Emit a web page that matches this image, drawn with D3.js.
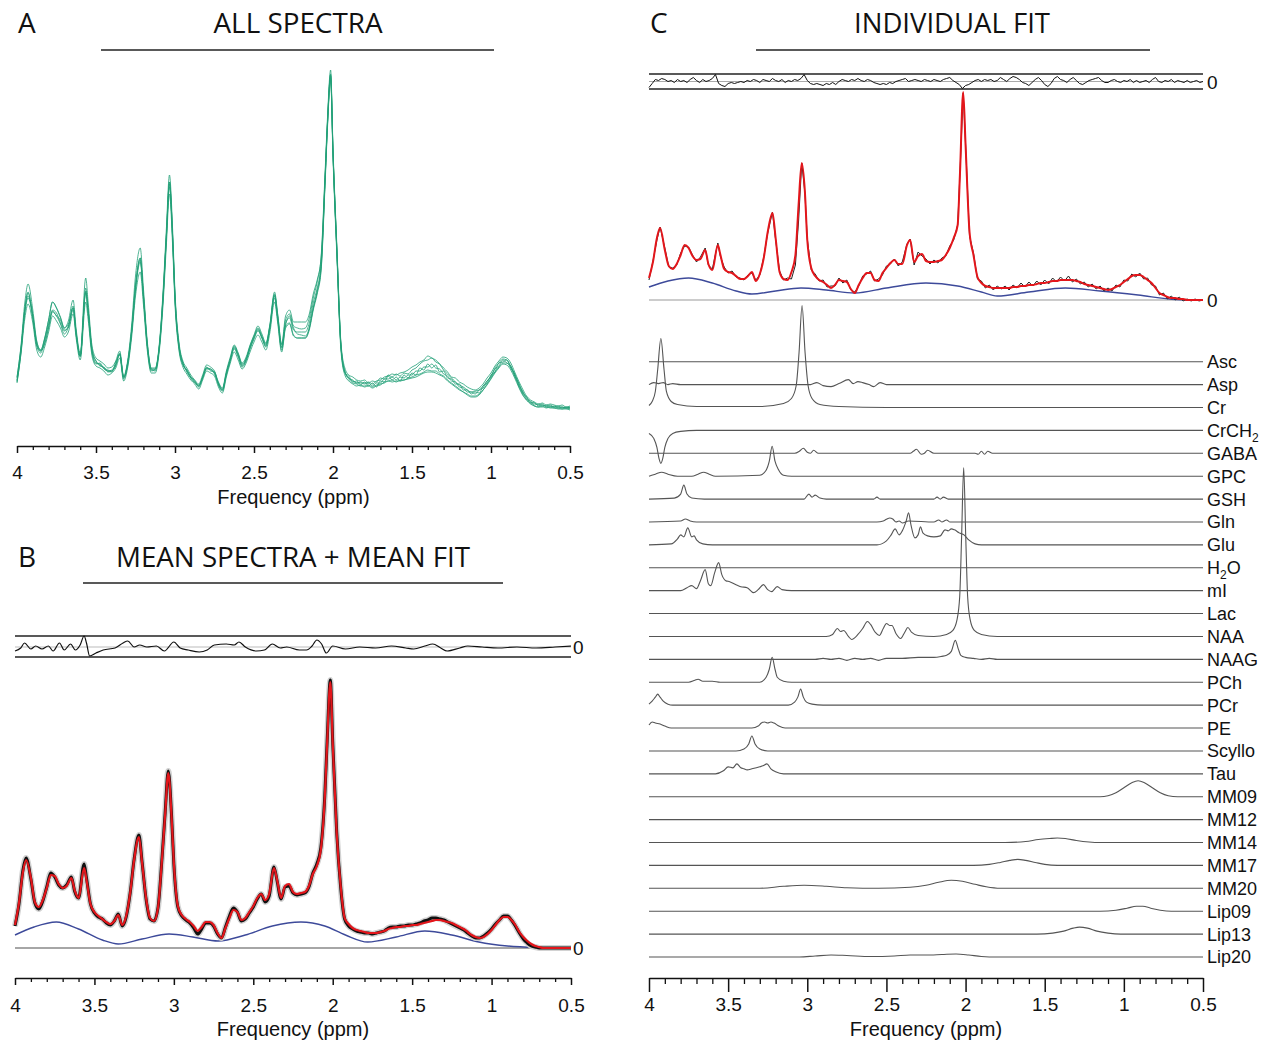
<!DOCTYPE html>
<html>
<head>
<meta charset="utf-8">
<script src="https://cdn.jsdelivr.net/npm/d3@7"></script>
<style>
  body { margin: 0; background: #fff; }
  text { font-family: "Liberation Sans", Arial, sans-serif; fill: #111; }
  .title { font-family: "Open Sans", "Noto Sans", sans-serif; }
</style>
</head>
<body>
<svg id="fig" width="1272" height="1042"></svg>
<script>
// ---- tick labels ----
const majorTicks = [4, 3.5, 3, 2.5, 2, 1.5, 1, 0.5];
const minorTicks = [3.9, 3.8, 3.7, 3.6, 3.4, 3.3, 3.2, 3.1, 2.9, 2.8, 2.7, 2.6, 2.4, 2.3, 2.2, 2.1,
  1.9, 1.8, 1.7, 1.6, 1.4, 1.3, 1.2, 1.1, 0.9, 0.8, 0.7, 0.6];

// ---- shared frequency grid (ppm) for the full spectra ----
const ppm = [
  4.000, 3.975, 3.950, 3.930, 3.900, 3.875, 3.850, 3.825, 3.800, 3.775,
  3.750, 3.725, 3.700, 3.675, 3.645, 3.625, 3.600, 3.565, 3.550, 3.525,
  3.500, 3.475, 3.450, 3.425, 3.400, 3.375, 3.350, 3.325, 3.300, 3.275,
  3.250, 3.220, 3.200, 3.175, 3.150, 3.125, 3.100, 3.075, 3.055, 3.035,
  3.015, 3.000, 2.975, 2.950, 2.925, 2.900, 2.875, 2.850, 2.825, 2.800,
  2.775, 2.750, 2.725, 2.700, 2.675, 2.650, 2.625, 2.600, 2.575, 2.550,
  2.525, 2.500, 2.475, 2.450, 2.425, 2.400, 2.370, 2.350, 2.325, 2.300,
  2.275, 2.250, 2.225, 2.200, 2.175, 2.150, 2.125, 2.100, 2.075, 2.050,
  2.035, 2.015, 2.000, 1.975, 1.950, 1.925, 1.900, 1.875, 1.850, 1.825,
  1.800, 1.775, 1.750, 1.725, 1.700, 1.675, 1.650, 1.625, 1.600, 1.575,
  1.550, 1.525, 1.500, 1.475, 1.450, 1.425, 1.400, 1.375, 1.350, 1.325,
  1.300, 1.275, 1.250, 1.225, 1.200, 1.175, 1.150, 1.125, 1.100, 1.075,
  1.050, 1.025, 1.000, 0.975, 0.950, 0.925, 0.900, 0.875, 0.850, 0.825,
  0.800, 0.775, 0.750, 0.725, 0.700, 0.675, 0.650, 0.625, 0.600, 0.575,
  0.550, 0.525, 0.500];

// ---- A: all spectra (one array per subject) ----
const specA1 = [
  30, 62, 106, 124, 98, 67, 58, 69, 88, 106,
  100, 91, 80, 87, 108, 78, 55, 130, 106, 62,
  50, 47, 44, 40, 41, 47, 57, 32, 47, 82,
  132, 160, 120, 66, 40, 40, 63, 118, 178, 233,
  178, 116, 66, 47, 40, 33, 28, 24, 33, 43,
  41, 37, 26, 20, 37, 51, 63, 55, 45, 51,
  63, 73, 82, 74, 65, 83, 116, 94, 63, 88,
  94, 82, 80, 79, 80, 90, 110, 126, 152, 236,
  290, 338, 260, 160, 66, 40, 33, 31, 28, 27,
  28, 25, 27, 26, 30, 29, 33, 31, 34, 32,
  35, 34, 38, 40, 44, 47, 48, 50, 46, 44,
  40, 36, 31, 30, 26, 24, 21, 19, 18, 20,
  24, 30, 35, 42, 47, 51, 50, 45, 36, 27,
  19, 12, 8, 6, 4, 5, 3, 4, 3, 2,
  3, 1, 2];
const specA2 = [
  26, 54, 90, 104, 85, 58, 51, 61, 76, 92,
  87, 80, 71, 76, 94, 69, 48, 106, 89, 52,
  42, 40, 37, 33, 35, 40, 50, 27, 40, 70,
  112, 136, 104, 57, 35, 35, 56, 105, 162, 214,
  162, 104, 58, 41, 34, 28, 24, 19, 28, 37,
  35, 32, 21, 15, 31, 45, 56, 48, 39, 45,
  56, 66, 73, 66, 58, 75, 106, 85, 56, 80,
  84, 72, 70, 70, 70, 78, 98, 114, 138, 224,
  280, 328, 250, 150, 58, 33, 27, 24, 22, 23,
  21, 22, 20, 22, 23, 26, 27, 28, 26, 28,
  28, 30, 31, 33, 34, 36, 38, 37, 37, 34,
  32, 28, 25, 22, 19, 16, 14, 12, 12, 14,
  18, 23, 29, 35, 40, 44, 43, 38, 30, 21,
  13, 8, 4, 2, 1, 2, 0, 1, 0, 0,
  -1, 0, -1];
const specA3 = [
  27, 57, 100, 116, 90, 62, 55, 68, 84, 97,
  92, 88, 78, 80, 98, 72, 53, 115, 97, 57,
  47, 42, 41, 36, 37, 42, 55, 29, 45, 75,
  118, 146, 110, 60, 37, 39, 59, 110, 168, 221,
  168, 108, 60, 43, 38, 31, 27, 21, 31, 41,
  37, 36, 23, 17, 33, 47, 59, 51, 41, 47,
  59, 69, 77, 70, 61, 79, 110, 88, 58, 83,
  92, 80, 74, 73, 72, 80, 100, 116, 140, 228,
  283, 330, 254, 154, 62, 35, 32, 26, 27, 23,
  26, 22, 25, 21, 27, 26, 32, 28, 31, 27,
  33, 30, 35, 33, 40, 38, 44, 40, 43, 36,
  37, 30, 29, 24, 24, 18, 18, 14, 16, 15,
  22, 25, 33, 36, 45, 46, 48, 40, 34, 23,
  17, 9, 7, 3, 4, 2, 3, 1, 2, 0,
  1, 0, 1];
const specA4 = [
  25, 55, 97, 112, 93, 66, 58, 70, 88, 106,
  100, 90, 80, 84, 100, 75, 51, 116, 95, 55,
  44, 45, 39, 37, 36, 46, 53, 31, 42, 74,
  120, 150, 113, 63, 39, 37, 60, 113, 171, 226,
  171, 111, 63, 45, 36, 30, 25, 23, 30, 39,
  39, 34, 25, 19, 35, 49, 61, 53, 43, 49,
  61, 71, 79, 71, 63, 81, 113, 91, 61, 82,
  85, 73, 70, 70, 70, 80, 100, 117, 143, 228,
  284, 332, 256, 156, 63, 37, 30, 28, 25, 26,
  25, 26, 24, 27, 28, 31, 32, 34, 33, 35,
  36, 38, 41, 43, 46, 48, 52, 50, 48, 44,
  38, 34, 30, 26, 23, 21, 18, 16, 17, 18,
  22, 27, 32, 40, 45, 49, 48, 42, 34, 25,
  16, 11, 6, 5, 3, 3, 2, 2, 1, 1,
  1, 0, 0];
const specA5 = [
  31, 60, 96, 110, 91, 63, 57, 64, 80, 96,
  92, 84, 74, 81, 102, 73, 52, 120, 99, 59,
  47, 43, 40, 38, 37, 43, 54, 31, 45, 77,
  123, 150, 114, 63, 39, 39, 61, 114, 172, 226,
  172, 112, 63, 45, 38, 31, 27, 22, 31, 40,
  39, 36, 24, 18, 35, 49, 62, 54, 44, 49,
  62, 72, 80, 72, 64, 82, 114, 93, 64, 92,
  98, 86, 86, 86, 86, 94, 114, 128, 150, 232,
  286, 334, 256, 156, 64, 36, 29, 25, 24, 22,
  22, 23, 21, 23, 24, 25, 27, 26, 27, 27,
  28, 29, 30, 31, 33, 35, 36, 36, 35, 33,
  31, 27, 24, 21, 18, 16, 13, 11, 11, 13,
  18, 24, 30, 36, 41, 45, 45, 40, 32, 22,
  14, 8, 5, 2, 1, 1, 1, 0, 0, -1,
  -1, -1, -2];
const specA6 = [
  28, 58, 99, 115, 91, 64, 57, 65, 81, 98,
  95, 85, 77, 82, 100, 74, 52, 117, 97, 57,
  45, 44, 40, 37, 38, 44, 54, 30, 44, 76,
  121, 148, 112, 62, 38, 38, 60, 112, 170, 224,
  170, 110, 62, 44, 37, 30, 26, 22, 30, 40,
  38, 35, 24, 18, 34, 48, 60, 52, 42, 48,
  60, 70, 78, 70, 62, 80, 112, 90, 60, 85,
  90, 78, 76, 76, 76, 85, 105, 120, 145, 230,
  285, 333, 255, 155, 62, 36, 30, 27, 25, 25,
  24, 25, 22, 25, 25, 29, 29, 31, 28, 31,
  30, 33, 33, 37, 37, 41, 41, 44, 40, 39,
  34, 32, 27, 26, 21, 20, 16, 16, 14, 18,
  20, 27, 31, 39, 42, 48, 45, 42, 32, 25,
  15, 11, 5, 5, 2, 4, 1, 3, 1, 2,
  0, 1, 0];

// ---- B: mean spectrum + mean fit ----
const dataB = [
  22, 44, 78, 90, 69, 45, 39, 47, 61, 75,
  71, 63, 60, 63, 71, 57, 50, 84, 70, 44,
  35, 31, 29, 25, 23, 27, 34, 22, 31, 55,
  89, 113, 86, 49, 29, 27, 40, 89, 135, 177,
  134, 84, 41, 32, 28, 25, 20, 14, 19, 25,
  25, 22, 14, 10, 21, 32, 40, 36, 27, 29,
  35, 41, 49, 54, 46, 52, 81, 67, 49, 61,
  62, 55, 53, 54, 55, 61, 75, 84, 100, 152,
  207, 268, 206, 116, 61, 29, 22, 19, 17, 16,
  15, 15, 14, 15, 16, 17, 20, 21, 21, 22,
  22, 23, 23, 24, 25, 27, 28, 30, 30, 29,
  28, 26, 24, 22, 20, 18, 15, 12, 10, 10,
  12, 15, 19, 24, 28, 32, 32, 28, 22, 15,
  9, 5, 2, 1, 0, 0, 0, 0, 0, 0,
  0, 0, 0];
const fitB = [
  23, 45, 76, 88, 70, 46, 41, 48, 60, 73,
  72, 64, 60, 62, 70, 58, 50, 80, 68, 44,
  36, 32, 29, 26, 24, 27, 33, 23, 32, 55,
  88, 111, 85, 50, 30, 27, 40, 88, 133, 175,
  133, 85, 42, 33, 29, 26, 22, 17, 21, 26,
  26, 23, 15, 10, 20, 30, 38, 36, 28, 30,
  36, 42, 50, 54, 48, 54, 80, 68, 50, 62,
  64, 56, 54, 55, 56, 62, 74, 82, 98, 150,
  205, 266, 205, 115, 62, 30, 24, 20, 18, 17,
  16, 15, 15, 15, 16, 17, 19, 20, 21, 21,
  22, 22, 23, 23, 24, 25, 26, 27, 28, 28,
  27, 26, 25, 23, 21, 19, 16, 13, 11, 10,
  11, 14, 18, 23, 28, 31, 31, 28, 23, 16,
  11, 7, 4, 2, 1, 0, 0, 0, 0, 0,
  0, 0, 0];
const baseB_ppm = [4.0, 3.88, 3.74, 3.60, 3.45, 3.35, 3.20, 3.03, 2.88, 2.72, 2.55, 2.38,
  2.20, 2.05, 1.92, 1.78, 1.60, 1.42, 1.25, 1.08, 0.90, 0.72, 0.5];
const baseB = [13, 21, 26, 19, 8, 4, 9, 14, 11, 7, 13, 22, 26, 22, 13, 6, 11, 17, 13, 6, 2, 0.5, 0];
const residB_ppm = [4.0, 3.964, 3.94, 3.90, 3.87, 3.83, 3.79, 3.76, 3.72, 3.69, 3.65, 3.62, 3.59,
  3.565, 3.55, 3.53, 3.49, 3.445, 3.37, 3.32, 3.29, 3.25, 3.215, 3.17, 3.11, 3.06, 3.0, 2.96,
  2.91, 2.84, 2.79, 2.745, 2.67, 2.62, 2.59, 2.55, 2.48, 2.43, 2.38, 2.33, 2.29, 2.21, 2.165,
  2.13, 2.10, 2.07, 2.04, 2.0, 1.92, 1.83, 1.73, 1.63, 1.54, 1.49, 1.42, 1.37, 1.32, 1.28,
  1.2, 1.15, 1.06, 0.96, 0.84, 0.72, 0.60, 0.5];
const residB = [-4, -1, 4, -2, 1, -2, 1, -4, 4, -3, 3, -3, 2,
  11, 4, -9, -6, -3, -1, 4, 6, 0, 2, 0, 1, -4, 5, -1,
  -3, -5, -3, 2, 3, 2, 5, 0, -4, -3, 3, -1, 0, -3, -3,
  1, 7, 3, -6, 1, -2, 0, -1, 1, -1, -2, 1, 3, -1, -4,
  -1, 1, 0, -1, 0, -1, 0, 1];

// ---- C: individual fit ----
const dataC = [
  20, 39, 60, 73, 52, 33, 32, 35, 47, 54,
  53, 45, 38, 43, 52, 35, 31, 57, 44, 33,
  27, 29, 23, 22, 20, 25, 27, 20, 25, 43,
  67, 88, 60, 29, 20, 22, 21, 35, 79, 137,
  107, 61, 30, 26, 19, 20, 13, 14, 14, 22,
  17, 20, 10, 8, 14, 24, 26, 29, 19, 21,
  25, 34, 36, 41, 34, 38, 56, 61, 35, 48,
  44, 41, 36, 40, 37, 42, 44, 54, 60, 75,
  128, 207, 156, 64, 47, 21, 19, 12, 15, 10,
  14, 11, 14, 10, 15, 12, 17, 13, 18, 14,
  19, 15, 20, 16, 22, 18, 23, 19, 24, 18,
  21, 16, 18, 13, 16, 11, 14, 9, 12, 9,
  15, 13, 20, 19, 26, 23, 27, 21, 22, 15,
  14, 5, 7, 1, 4, 0, 3, -1, 1, -1,
  1, -1, 0];
const fitC = [
  22, 38, 62, 72, 50, 34, 31, 36, 45, 55,
  52, 44, 40, 41, 50, 36, 30, 55, 46, 31,
  28, 27, 24, 21, 21, 24, 28, 19, 26, 42,
  68, 87, 62, 28, 21, 20, 28, 45, 95, 137,
  108, 60, 32, 24, 20, 18, 15, 12, 15, 20,
  19, 18, 11, 7, 15, 22, 27, 27, 20, 19,
  27, 32, 37, 40, 36, 36, 55, 60, 38, 44,
  46, 39, 38, 38, 39, 40, 45, 52, 62, 75,
  128, 208, 155, 68, 45, 23, 17, 14, 13, 12,
  12, 12, 12, 12, 13, 13, 14, 14, 15, 15,
  16, 17, 17, 18, 19, 19, 20, 20, 20, 20,
  19, 18, 16, 15, 14, 13, 12, 11, 10, 11,
  13, 15, 18, 21, 24, 25, 25, 23, 20, 17,
  12, 7, 5, 3, 2, 2, 1, 1, 0, 0,
  0, 0, 0];
const baseC_ppm = [4.0, 3.88, 3.75, 3.60, 3.45, 3.35, 3.20, 3.04, 2.88, 2.70, 2.50, 2.25,
  2.05, 1.90, 1.80, 1.60, 1.37, 1.15, 0.91, 0.67, 0.5];
const baseC = [13, 19, 22, 17, 9, 6, 9, 12, 10, 7, 12, 17, 14, 8, 4, 8, 12, 9, 5, 0.5, 0];
const residC_ppm = [
  4.00, 3.98, 3.96, 3.94, 3.92, 3.90, 3.88, 3.86, 3.84, 3.82,
  3.80, 3.78, 3.76, 3.74, 3.72, 3.70, 3.68, 3.66, 3.64, 3.62,
  3.60, 3.58, 3.56, 3.54, 3.52, 3.50, 3.48, 3.46, 3.44, 3.42,
  3.40, 3.38, 3.36, 3.34, 3.32, 3.30, 3.28, 3.26, 3.24, 3.22,
  3.20, 3.18, 3.16, 3.14, 3.12, 3.10, 3.08, 3.06, 3.04, 3.02,
  3.00, 2.98, 2.96, 2.94, 2.92, 2.90, 2.88, 2.86, 2.84, 2.82,
  2.80, 2.78, 2.76, 2.74, 2.72, 2.70, 2.68, 2.66, 2.64, 2.62,
  2.60, 2.58, 2.56, 2.54, 2.52, 2.50, 2.48, 2.46, 2.44, 2.42,
  2.40, 2.38, 2.36, 2.34, 2.32, 2.30, 2.28, 2.26, 2.24, 2.22,
  2.20, 2.18, 2.16, 2.14, 2.12, 2.10, 2.08, 2.06, 2.04, 2.02,
  2.00, 1.98, 1.96, 1.94, 1.92, 1.90, 1.88, 1.86, 1.84, 1.82,
  1.80, 1.78, 1.76, 1.74, 1.72, 1.70, 1.68, 1.66, 1.64, 1.62,
  1.60, 1.58, 1.56, 1.54, 1.52, 1.50, 1.48, 1.46, 1.44, 1.42,
  1.40, 1.38, 1.36, 1.34, 1.32, 1.30, 1.28, 1.26, 1.24, 1.22,
  1.20, 1.18, 1.16, 1.14, 1.12, 1.10, 1.08, 1.06, 1.04, 1.02,
  1.00, 0.98, 0.96, 0.94, 0.92, 0.90, 0.88, 0.86, 0.84, 0.82,
  0.80, 0.78, 0.76, 0.74, 0.72, 0.70, 0.68, 0.66, 0.64, 0.62,
  0.60, 0.58, 0.56, 0.54, 0.52, 0.50];
const residC = [
  -6, -2, 2, 1, 3, 2, 0, 1, -1, 2,
  0, 1, -1, 2, 4, 1, -1, 2, 0, 1,
  3, 7, -2, -4, -5, -2, -1, -2, -1, 0,
  -1, 1, 0, 2, 1, -1, 2, 1, 0, 3,
  1, 0, 2, -1, 1, 0, 2, 1, 3, 7,
  1, -2, -3, -2, -3, -4, -2, -3, -1, -3,
  0, 2, 1, 0, 2, 1, 3, 1, 0, 2,
  1, -1, -2, -3, -2, -3, -1, -2, 0, 1,
  2, 3, 0, 1, 2, 1, 0, 2, 1, 0,
  2, 1, 0, 2, 3, 4, 1, -1, -3, -7,
  -4, -3, -1, 1, 2, 0, 2, 1, 2, 0,
  1, 4, 2, 0, 3, 5, 4, 2, -1, -2,
  -4, -1, 2, 4, 1, -3, -5, -2, 3, 5,
  2, 1, -1, 2, 4, 1, -2, -3, -1, 1,
  2, 3, 4, 1, -1, -1, 1, 2, 0, -1,
  1, 0, 2, -1, 1, -1, 0, 1, -1, 2,
  4, 0, -1, 1, 0, 2, -1, 1, 0, -1,
  1, -1, 0, 1, -1, 0];

// ---- C: basis functions, [ppm, amplitude] ----
const basisNames = ['Asc', 'Asp', 'Cr', 'CrCH2', 'GABA', 'GPC', 'GSH', 'Gln', 'Glu', 'H2O', 'mI',
  'Lac', 'NAA', 'NAAG', 'PCh', 'PCr', 'PE', 'Scyllo', 'Tau', 'MM09', 'MM12', 'MM14', 'MM17',
  'MM20', 'Lip09', 'Lip13', 'Lip20'];
const asc = [[4, 0], [0.5, 0]];
const asp = [[4, 0], [3.97, 2], [3.94, 1], [3.91, 2], [3.88, 0], [3.85, 1], [3.80, 0], [2.98, 0],
  [2.94, 2], [2.90, -1], [2.85, -2], [2.80, 1], [2.74, 5], [2.71, 1], [2.68, 3], [2.65, 2],
  [2.61, 0], [2.58, -2], [2.54, 2], [2.50, 0], [0.5, 0]];
const cr = [[4, 2], [3.98, 6], [3.96, 16], [3.945, 38], [3.925, 69], [3.905, 38], [3.89, 16],
  [3.86, 6], [3.82, 3], [3.7, 1], [3.3, 1], [3.15, 4], [3.10, 9], [3.07, 22], [3.052, 55],
  [3.033, 102], [3.014, 55], [2.995, 22], [2.97, 9], [2.92, 3], [2.8, 1], [2.5, 0], [0.5, 0]];
const crch2 = [[4, -3], [3.97, -8], [3.95, -17], [3.937, -28], [3.925, -33], [3.913, -28],
  [3.90, -17], [3.88, -8], [3.85, -3], [3.80, -1], [3.7, 0], [0.5, 0]];
const gaba = [[4, 0], [3.08, 0], [3.05, 2], [3.025, 5], [3.0, 1], [2.98, 0], [2.96, 3], [2.93, 0],
  [2.35, 0], [2.33, 2], [2.31, 4], [2.28, -1], [2.26, 0], [2.24, 3], [2.20, 0], [1.94, 0],
  [1.92, -1], [1.90, 2], [1.88, -1], [1.86, 2], [1.83, 0], [0.5, 0]];
const gpc = [[4, 0], [3.96, 2], [3.92, 4], [3.88, 2], [3.82, 0], [3.73, 0], [3.69, 2], [3.655, 4],
  [3.62, 2], [3.58, 0], [3.30, 1], [3.26, 6], [3.24, 15], [3.222, 30], [3.204, 15], [3.18, 6],
  [3.15, 1], [3.1, 0], [0.5, 0]];
const gsh = [[4, 0], [3.84, 1], [3.80, 5], [3.78, 14], [3.76, 5], [3.73, 1], [3.65, 0], [3.02, 0],
  [2.99, 5], [2.97, 2], [2.95, 4], [2.92, 1], [2.88, 0], [2.58, 0], [2.56, 2], [2.54, 0],
  [2.20, 0], [2.18, 2], [2.16, 0], [2.14, 2], [2.11, 0], [0.5, 0]];
const gln = [[4, 0], [3.80, 1], [3.77, 3], [3.74, 1], [3.70, 0], [2.56, 0], [2.52, 1], [2.48, 4],
  [2.46, 3], [2.44, 0], [2.42, 1], [2.40, -1], [2.36, 1], [2.20, 0], [2.17, 2], [2.15, 0],
  [2.12, 2], [2.10, 0], [0.5, 0]];
const glu = [[4, 0], [3.86, 1], [3.82, 6], [3.80, 10], [3.78, 8], [3.755, 17], [3.73, 8],
  [3.715, 9], [3.70, 5], [3.66, 1], [3.6, 0], [2.56, 0], [2.50, 4], [2.47, 10], [2.445, 16],
  [2.42, 10], [2.40, 14], [2.375, 24], [2.36, 32], [2.345, 20], [2.32, 7], [2.30, 10],
  [2.285, 18], [2.27, 12], [2.24, 9], [2.20, 8], [2.16, 9], [2.13, 15], [2.11, 14], [2.09, 16],
  [2.07, 15], [2.04, 12], [2.01, 10], [1.98, 5], [1.94, 1], [1.9, 0], [0.5, 0]];
const h2o = [[4, 0], [0.5, 0]];
const mi = [[4, 0], [3.80, 0], [3.76, 3], [3.73, 5], [3.70, 2], [3.675, 10], [3.645, 21],
  [3.625, 7], [3.61, 5], [3.585, 18], [3.56, 28], [3.54, 16], [3.515, 10], [3.49, 9],
  [3.45, 6], [3.42, 4], [3.38, 3], [3.34, -2], [3.31, 1], [3.277, 6], [3.25, 1], [3.225, -1],
  [3.19, 4], [3.16, 1], [3.1, 0], [0.5, 0]];
const lac = [[4, 0], [0.5, 0]];
const naa = [[4, 0], [2.88, 0], [2.84, 2], [2.81, 8], [2.79, 5], [2.77, 6], [2.74, 0], [2.72, -3],
  [2.68, 2], [2.65, 8], [2.62, 15], [2.60, 12], [2.57, 4], [2.545, 1], [2.52, 8], [2.50, 13],
  [2.48, 11], [2.465, 11], [2.44, 3], [2.41, -2], [2.385, 4], [2.365, 9], [2.34, 4], [2.30, 1],
  [2.2, 0], [2.12, 2], [2.08, 6], [2.055, 16], [2.037, 40], [2.025, 100], [2.012, 169],
  [1.999, 100], [1.987, 40], [1.97, 16], [1.945, 6], [1.90, 2], [1.8, 0], [0.5, 0]];
const naag = [[4, 0], [2.95, 0], [2.90, 1], [2.85, 0], [2.80, 1], [2.75, -1], [2.70, 1], [2.65, 0],
  [2.60, 1], [2.55, -1], [2.50, 1], [2.40, 1], [2.30, 2], [2.20, 2], [2.15, 3], [2.12, 4],
  [2.09, 8], [2.065, 19], [2.045, 10], [2.03, 4], [2.0, 2], [1.95, 1], [1.90, 0], [1.85, 1],
  [1.80, 0], [0.5, 0]];
const pch = [[4, 0], [3.75, 0], [3.71, 2], [3.69, 3], [3.66, 1], [3.60, 1], [3.55, 0], [3.30, 0],
  [3.26, 5], [3.24, 13], [3.222, 25], [3.204, 13], [3.19, 5], [3.15, 1], [3.1, 0], [0.5, 0]];
const pcr = [[4, 1], [3.98, 4], [3.96, 8], [3.945, 11], [3.93, 8], [3.91, 4], [3.88, 1],
  [3.85, 0], [3.12, 0], [3.08, 3], [3.06, 8], [3.042, 16], [3.025, 8], [3.005, 3], [2.97, 1],
  [2.9, 0], [0.5, 0]];
const pe = [[4, 3], [3.98, 6], [3.96, 5], [3.93, 4], [3.90, 2], [3.86, 0], [3.35, 0], [3.31, 2],
  [3.29, 5], [3.27, 6], [3.25, 5], [3.23, 6], [3.21, 5], [3.18, 2], [3.14, 0], [0.5, 0]];
const scyllo = [[4, 0], [3.45, 0], [3.40, 2], [3.37, 7], [3.35, 15], [3.33, 7], [3.30, 2],
  [3.25, 0], [0.5, 0]];
const tau = [[4, 0], [3.58, 0], [3.53, 3], [3.50, 7], [3.47, 6], [3.445, 10], [3.42, 6],
  [3.40, 5], [3.38, 4], [3.35, 5], [3.30, 7], [3.28, 8], [3.255, 10], [3.23, 5], [3.20, 2],
  [3.15, 0], [0.5, 0]];
const mm09 = [[4, 0], [1.15, 0], [1.10, 1], [1.05, 4], [1.00, 9], [0.95, 14], [0.91, 16],
  [0.87, 14], [0.82, 9], [0.77, 4], [0.72, 1], [0.66, 0], [0.5, 0]];
const mm12 = [[4, 0], [0.5, 0]];
const mm14 = [[4, 0], [1.75, 0], [1.62, 1], [1.54, 3], [1.47, 4], [1.42, 4.5], [1.37, 4],
  [1.30, 2], [1.22, 0.5], [1.15, 0], [0.5, 0]];
const mm17 = [[4, 0], [1.95, 0], [1.85, 1], [1.78, 3], [1.72, 5], [1.67, 6], [1.62, 5],
  [1.56, 3], [1.50, 1], [1.42, 0], [0.5, 0]];
const mm20 = [[4, 0], [3.30, 0], [3.15, 2], [3.02, 3], [2.88, 2], [2.75, 0.5], [2.55, 0],
  [2.35, 1], [2.25, 3], [2.17, 6], [2.09, 8], [2.02, 7], [1.94, 4], [1.87, 1.5], [1.78, 0], [0.5, 0]];
const lip09 = [[4, 0], [1.15, 0], [1.05, 1], [0.98, 3], [0.92, 5], [0.88, 5], [0.83, 3],
  [0.77, 1], [0.70, 0], [0.5, 0]];
const lip13 = [[4, 0], [1.55, 0], [1.45, 1], [1.38, 3], [1.32, 6], [1.28, 7], [1.23, 6],
  [1.17, 3], [1.10, 1], [1.02, 0], [0.5, 0]];
const lip20 = [[4, 0], [3.05, 0], [2.95, 1], [2.85, 2], [2.75, 1.5], [2.6, 0.5], [2.45, 1],
  [2.35, 2], [2.25, 2], [2.15, 2.5], [2.06, 3], [1.98, 2], [1.9, 0.5], [1.8, 0], [0.5, 0]];
const basisSets = [asc, asp, cr, crch2, gaba, gpc, gsh, gln, glu, h2o, mi, lac, naa, naag, pch,
  pcr, pe, scyllo, tau, mm09, mm12, mm14, mm17, mm20, lip09, lip13, lip20];

// ---------------------------------------------------------------
const svg = d3.select('#fig');
const zip = (p, v) => p.map((q, i) => [q, v[i]]);

function drawPath(data, x, y, color, width, curve) {
  const gen = d3.line().x(d => x(d[0])).y(d => y(d[1])).curve(curve || d3.curveMonotoneX);
  return svg.append('path')
    .datum(data)
    .attr('fill', 'none')
    .attr('stroke', color)
    .attr('stroke-width', width)
    .attr('stroke-linejoin', 'round')
    .attr('d', gen);
}

function hline(x1, x2, y, color, width) {
  svg.append('line')
    .attr('x1', x1).attr('x2', x2).attr('y1', y).attr('y2', y)
    .attr('stroke', color).attr('stroke-width', width);
}

function freqAxis(x, yPos, majLen, minLen, pad, labelY) {
  svg.append('g')
    .attr('transform', `translate(0,${yPos})`)
    .call(d3.axisBottom(x).tickValues(minorTicks).tickSize(minLen).tickSizeOuter(0).tickFormat(''))
    .call(g => g.select('.domain').remove())
    .call(g => g.selectAll('line').attr('stroke', '#111').attr('stroke-width', 1.3));
  svg.append('g')
    .attr('transform', `translate(0,${yPos})`)
    .call(d3.axisBottom(x).tickValues(majorTicks).tickSize(majLen).tickSizeOuter(0)
      .tickPadding(pad).tickFormat(d => String(d)))
    .call(g => g.select('.domain').attr('stroke', '#111').attr('stroke-width', 1.6))
    .call(g => g.selectAll('line').attr('stroke', '#111').attr('stroke-width', 1.5))
    .call(g => g.selectAll('text').attr('font-size', 19)
      .attr('font-family', '"Liberation Sans", Arial, sans-serif').attr('fill', '#111'));
  const r = x.range();
  svg.append('text')
    .attr('x', (r[0] + r[1]) / 2).attr('y', labelY)
    .attr('text-anchor', 'middle').attr('font-size', 20)
    .text('Frequency (ppm)');
}

function panelTitle(letter, lx, title, cx, width, baseY, lineX1, lineX2, lineY) {
  svg.append('text').attr('class', 'title')
    .attr('x', lx).attr('y', baseY).attr('font-size', 28).text(letter);
  svg.append('text').attr('class', 'title')
    .attr('x', cx).attr('y', baseY).attr('text-anchor', 'middle').attr('font-size', 28)
    .attr('textLength', width).attr('lengthAdjust', 'spacingAndGlyphs')
    .text(title);
  hline(lineX1, lineX2, lineY, '#222', 1.5);
}

// ---- Panel A ----
const xA = d3.scaleLinear().domain([4, 0.5]).range([17, 570]);
const yA = d3.scaleLinear().domain([0, 333]).range([408, 75]);
panelTitle('A', 18, 'ALL SPECTRA', 298, 169, 33, 101, 494, 50);
[specA1, specA2, specA3, specA4, specA5, specA6].forEach(s => {
  drawPath(zip(ppm, s), xA, yA, '#22a077', 0.9).attr('stroke-opacity', 0.9);
});
freqAxis(xA, 446, 7, 4, 13, 504);

// ---- Panel B ----
const xB = d3.scaleLinear().domain([4, 0.5]).range([15, 571]);
const yB = d3.scaleLinear().domain([0, 266]).range([948, 682]);
const yRB = d3.scaleLinear().domain([-10, 10]).range([657, 637]);
panelTitle('B', 18, 'MEAN SPECTRA + MEAN FIT', 293, 354, 567, 83, 503, 583);
hline(15, 571, 636, '#222', 1.6);
hline(15, 571, 657, '#222', 1.6);
hline(15, 571, 647, '#bbb', 1);
drawPath(zip(residB_ppm, residB), xB, yRB, '#111', 1.2);
hline(15, 571, 948, '#888', 1.3);
drawPath(zip(baseB_ppm, baseB), xB, yB, '#3d4a9a', 1.4);
drawPath(zip(ppm, dataB), xB, yB, '#d2d2d2', 6);
drawPath(zip(ppm, dataB), xB, yB, '#111', 3);
drawPath(zip(ppm, fitB), xB, yB, '#e3161b', 2.2);
svg.append('text').attr('x', 573).attr('y', 647).attr('dy', '0.36em').attr('font-size', 19).text('0');
svg.append('text').attr('x', 573).attr('y', 948).attr('dy', '0.36em').attr('font-size', 19).text('0');
freqAxis(xB, 978, 7, 4, 14, 1036);

// ---- Panel C ----
const xC = d3.scaleLinear().domain([4, 0.5]).range([649, 1203]);
const yC = d3.scaleLinear().domain([0, 208]).range([300, 92]);
const yRC = d3.scaleLinear().domain([-10, 10]).range([91.5, 71.5]);
panelTitle('C', 650, 'INDIVIDUAL FIT', 952, 196, 33, 756, 1150, 50);
hline(649, 1203, 74, '#222', 1.6);
hline(649, 1203, 89, '#222', 1.6);
hline(649, 1203, 81.5, '#aaa', 1);
drawPath(zip(residC_ppm, residC), xC, yRC, '#111', 1, d3.curveLinear);
hline(649, 1203, 300, '#999', 1.2);
drawPath(zip(baseC_ppm, baseC), xC, yC, '#3d4a9a', 1.4);
drawPath(zip(ppm, dataC), xC, yC, '#222', 1, d3.curveLinear);
drawPath(zip(ppm, fitC), xC, yC, '#e3161b', 2);
svg.append('text').attr('x', 1207).attr('y', 82).attr('dy', '0.36em').attr('font-size', 19).text('0');
svg.append('text').attr('x', 1207).attr('y', 300).attr('dy', '0.36em').attr('font-size', 19).text('0');

// basis functions, stacked
const yBasis = d3.scalePoint().domain(basisNames).range([361.7, 957]);
const amp = d3.scaleLinear().domain([0, 1]).range([0, -1]);
basisNames.forEach((name, i) => {
  const base = yBasis(name);
  drawPath(basisSets[i], xC, v => base + amp(v), '#555', 1.1);
  const t = svg.append('text').attr('x', 1207).attr('y', base).attr('dy', '0.36em')
    .attr('font-size', 18);
  const sub = name === 'CrCH2' ? ['CrCH', '2', ''] : name === 'H2O' ? ['H', '2', 'O'] : null;
  if (sub) {
    t.append('tspan').text(sub[0]);
    t.append('tspan').attr('font-size', 12).attr('dy', 5).text(sub[1]);
    if (sub[2]) t.append('tspan').attr('dy', -5).text(sub[2]);
  } else {
    t.text(name);
  }
});
freqAxis(xC, 978, 14, 6, 6, 1036);
</script>
</body>
</html>
